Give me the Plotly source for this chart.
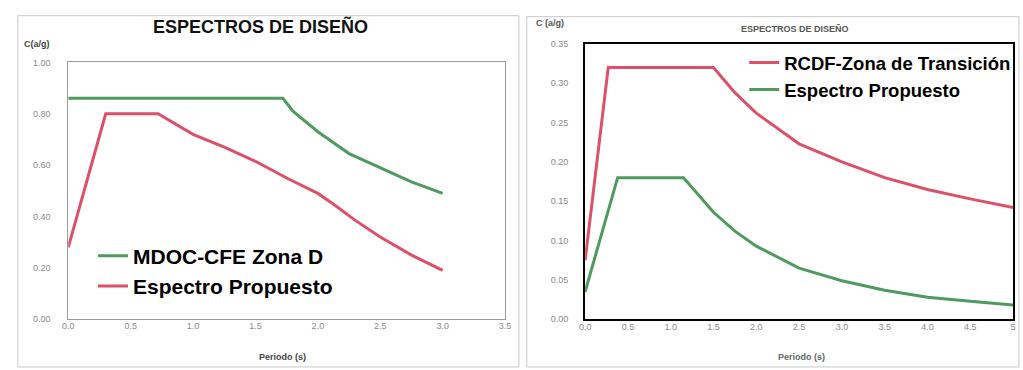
import plotly.graph_objects as go

W, H = 1023, 370

# ---- Left chart data: MDOC-CFE Zona D vs Espectro Propuesto ----
t_mdoc = [0.0, 1.72, 1.8, 2.0, 2.25, 2.5, 2.75, 3.0]
c_mdoc = [0.86, 0.86, 0.81, 0.73, 0.645, 0.59, 0.535, 0.49]

t_prop_l = [0.0, 0.30, 0.72, 1.0, 1.25, 1.5, 1.75, 2.0, 2.12, 2.3, 2.5, 2.75, 3.0]
c_prop_l = [0.28, 0.80, 0.80, 0.72, 0.67, 0.615, 0.55, 0.49, 0.45, 0.385, 0.32, 0.25, 0.19]

# ---- Right chart data: RCDF Zona de Transición vs Espectro Propuesto ----
t_rcdf = [0.0, 0.27, 1.5, 1.75, 2.0, 2.5, 3.0, 3.5, 4.0, 4.5, 5.0]
c_rcdf = [0.075, 0.32, 0.32, 0.288, 0.262, 0.223, 0.200, 0.180, 0.165, 0.153, 0.142]

t_prop_r = [0.0, 0.38, 1.15, 1.35, 1.5, 1.75, 2.0, 2.5, 3.0, 3.5, 4.0, 4.5, 5.0]
c_prop_r = [0.035, 0.18, 0.18, 0.155, 0.136, 0.112, 0.093, 0.065, 0.049, 0.037, 0.028, 0.023, 0.018]

left_yticks = [0.0, 0.2, 0.4, 0.6, 0.8, 1.0]
left_xticks = [0.0, 0.5, 1.0, 1.5, 2.0, 2.5, 3.0, 3.5]
right_yticks = [0.0, 0.05, 0.10, 0.15, 0.20, 0.25, 0.30, 0.35]
right_xticks = [0.0, 0.5, 1.0, 1.5, 2.0, 2.5, 3.0, 3.5, 4.0, 4.5, 5.0]

GREEN = "#4f9a5e"
RED = "#dc5068"
FONT = "Liberation Sans, Arial, sans-serif"
TICKCOL = "#8a8a8a"


def px(x):
    return x / W


def py(y):
    return 1 - y / H


fig = go.Figure()

fig.add_trace(go.Scatter(x=t_mdoc, y=c_mdoc, mode="lines", name="MDOC-CFE Zona D",
                         line=dict(color=GREEN, width=3), xaxis="x", yaxis="y", legend="legend"))
fig.add_trace(go.Scatter(x=t_prop_l, y=c_prop_l, mode="lines", name="Espectro Propuesto",
                         line=dict(color=RED, width=3), xaxis="x", yaxis="y", legend="legend"))
fig.add_trace(go.Scatter(x=t_rcdf, y=c_rcdf, mode="lines", name="RCDF-Zona de Transición",
                         line=dict(color=RED, width=3), xaxis="x2", yaxis="y2", legend="legend2"))
fig.add_trace(go.Scatter(x=t_prop_r, y=c_prop_r, mode="lines", name="Espectro Propuesto",
                         line=dict(color=GREEN, width=3), xaxis="x2", yaxis="y2", legend="legend2"))

tickfont = dict(family=FONT, size=9, color=TICKCOL)

fig.update_layout(
    width=W, height=H, autosize=False,
    margin=dict(l=0, r=0, t=0, b=0),
    paper_bgcolor="white", plot_bgcolor="white",
    font=dict(family=FONT),
    hovermode=False,
    xaxis=dict(domain=[px(63), px(505)], range=[0, 3.5], tickvals=left_xticks,
               ticktext=[f"{v:.1f}" for v in left_xticks], tickfont=tickfont,
               showgrid=False, zeroline=False, showline=True, linecolor="#9a9a9a",
               linewidth=1, mirror=True, anchor="y", ticks="", ticklabelstandoff=-2),
    yaxis=dict(domain=[py(323), py(59)], range=[0, 1.0], tickvals=left_yticks,
               ticktext=[f"{v:.2f}" for v in left_yticks], tickfont=tickfont,
               showgrid=False, zeroline=False, showline=True, linecolor="#9a9a9a",
               linewidth=1, mirror=True, anchor="x", ticks="", ticklabelstandoff=15),
    xaxis2=dict(domain=[px(586), px(1019)], range=[0, 5.0], tickvals=right_xticks,
                ticktext=[f"{v:.1f}" if v < 5 else "5" for v in right_xticks], tickfont=tickfont,
                showgrid=False, zeroline=False, showline=True, linecolor="black",
                linewidth=2, mirror=True, anchor="y2", ticks="", ticklabelstandoff=-2),
    yaxis2=dict(domain=[py(323), py(40)], range=[0, 0.35], tickvals=right_yticks,
                ticktext=[f"{v:.2f}" for v in right_yticks], tickfont=tickfont,
                showgrid=False, zeroline=False, showline=True, linecolor="black",
                linewidth=2, mirror=True, anchor="x2", ticks="", ticklabelstandoff=13),
    legend=dict(x=px(88), y=py(237), xanchor="left", yanchor="top",
                bgcolor="rgba(0,0,0,0)", borderwidth=0, itemwidth=30,
                font=dict(family=FONT, size=21, color="black", weight="bold")),
    legend2=dict(x=px(747), y=py(40), xanchor="left", yanchor="top",
                 bgcolor="rgba(0,0,0,0)", borderwidth=0, itemwidth=30, tracegroupgap=0,
                 font=dict(family=FONT, size=18.5, color="black", weight="bold")),
    showlegend=True,
)

annotations = [
    dict(text="<b>ESPECTROS DE DISEÑO</b>", x=px(258), y=py(22), font=dict(size=18, color="#111")),
    dict(text="<b>C(a/g)</b>", x=px(31), y=py(40), font=dict(size=9, color="#444")),
    dict(text="<b>Periodo (s)</b>", x=px(280), y=py(362), font=dict(size=9, color="#444")),
    dict(text="<b>ESPECTROS DE DISEÑO</b>", x=px(798), y=py(25), font=dict(size=9, color="#555")),
    dict(text="<b>C (a/g)</b>", x=px(550), y=py(19), font=dict(size=9, color="#555")),
    dict(text="<b>Periodo (s)</b>", x=px(805), y=py(362), font=dict(size=9, color="#666")),
]
for a in annotations:
    a.update(xref="paper", yref="paper", showarrow=False, xanchor="center", yanchor="middle")
    a["font"]["family"] = FONT
fig.update_layout(annotations=annotations)

shapes = [
    dict(type="rect", xref="paper", yref="paper", x0=px(12), x1=px(519), y0=py(372), y1=py(11),
         line=dict(color="#c8c8c8", width=1)),
    dict(type="rect", xref="paper", yref="paper", x0=px(527), x1=px(1025), y0=py(372), y1=py(12),
         line=dict(color="#c8c8c8", width=1)),
]
fig.update_layout(shapes=shapes)

fig.write_html(
    "out.html",
    config={"displayModeBar": False, "staticPlot": True},
    post_script="document.documentElement.style.margin='0';document.body.style.margin='0';"
                "document.body.style.padding='0';document.body.style.overflow='hidden';",
)
